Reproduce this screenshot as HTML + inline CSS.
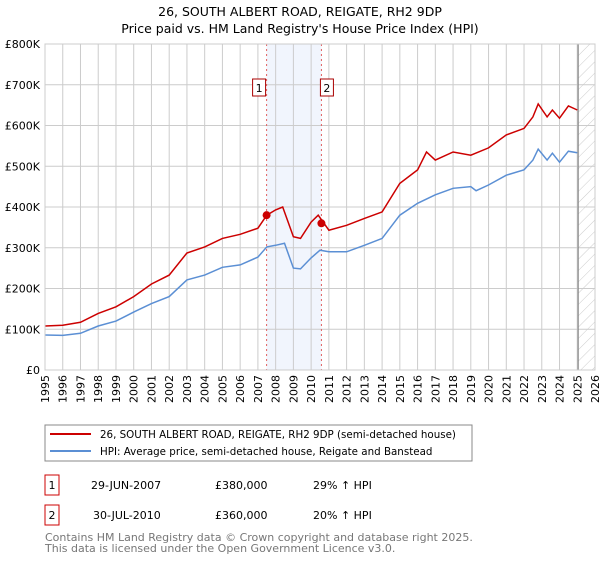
<!DOCTYPE html>
<html><head><meta charset="utf-8"><style>
body{margin:0;background:#fff;font-family:"DejaVu Sans","Liberation Sans",sans-serif;}
svg text{font-family:"DejaVu Sans","Liberation Sans",sans-serif;}
</style></head><body>
<svg id="c" width="600" height="560" xmlns="http://www.w3.org/2000/svg">
<text x="300" y="16" text-anchor="middle" font-size="12.5" fill="#000">26, SOUTH ALBERT ROAD, REIGATE, RH2 9DP</text>
<text x="300" y="33" text-anchor="middle" font-size="12.5" fill="#000">Price paid vs. HM Land Registry's House Price Index (HPI)</text>
<defs><pattern id="hatch" width="8" height="8" patternUnits="userSpaceOnUse" patternTransform="rotate(45)"><line x1="0" y1="0" x2="0" y2="8" stroke="#ccc" stroke-width="1"/></pattern></defs>
<g id="grid"></g>
<g id="marks"></g>
<g id="axes"></g>
<rect x="45" y="425" width="427" height="36" fill="#fff" stroke="#888"/>
<line x1="50" y1="434" x2="91" y2="434" stroke="#cc0000" stroke-width="2"/>
<text x="100" y="438" font-size="10.3">26, SOUTH ALBERT ROAD, REIGATE, RH2 9DP (semi-detached house)</text>
<line x1="50" y1="451" x2="91" y2="451" stroke="#5b8fd4" stroke-width="2"/>
<text x="100" y="455" font-size="10.3">HPI: Average price, semi-detached house, Reigate and Banstead</text>
<rect x="45" y="475" width="14" height="20" fill="#fff" stroke="#cc0000"/>
<text x="52" y="489" font-size="11" text-anchor="middle">1</text>
<text x="91" y="489" font-size="11">29-JUN-2007</text>
<text x="215" y="489" font-size="11">£380,000</text>
<text x="313" y="489" font-size="11">29% ↑ HPI</text>
<rect x="45" y="505" width="14" height="20" fill="#fff" stroke="#cc0000"/>
<text x="52" y="519" font-size="11" text-anchor="middle">2</text>
<text x="93" y="519" font-size="11">30-JUL-2010</text>
<text x="215" y="519" font-size="11">£360,000</text>
<text x="313" y="519" font-size="11">20% ↑ HPI</text>
<text x="45" y="541" font-size="11" fill="#777">Contains HM Land Registry data © Crown copyright and database right 2025.</text>
<text x="45" y="552" font-size="11" fill="#777">This data is licensed under the Open Government Licence v3.0.</text>
</svg>
<script>
const yTicks=[0,100000,200000,300000,400000,500000,600000,700000,800000];
const yTickLabels=["£0","£100K","£200K","£300K","£400K","£500K","£600K","£700K","£800K"];
const xYears=[1995,1996,1997,1998,1999,2000,2001,2002,2003,2004,2005,2006,2007,2008,2009,2010,2011,2012,2013,2014,2015,2016,2017,2018,2019,2020,2021,2022,2023,2024,2025,2026];
const hpiT=[1995,1996,1997,1998,1999,2000,2001,2002,2003,2004,2005,2006,2007,2007.5,2008,2008.5,2009,2009.4,2010,2010.5,2011,2012,2013,2014,2015,2016,2017,2018,2019,2019.3,2020,2021,2022,2022.5,2022.8,2023.3,2023.6,2024,2024.5,2025];
const hpiV=[86000,85000,90000,108000,120000,142000,163000,180000,221000,233000,252000,258000,277000,302000,306000,311000,250000,248000,275000,294000,290000,290000,306000,323000,380000,409000,430000,446000,450000,440000,454000,478000,491000,515000,542000,515000,532000,510000,537000,533000];
const priceT=[1995,1996,1997,1998,1999,2000,2001,2002,2003,2004,2005,2006,2007,2007.5,2008,2008.4,2009,2009.4,2010,2010.4,2011,2012,2013,2014,2015,2016,2016.5,2017,2018,2019,2020,2021,2022,2022.5,2022.8,2023.3,2023.6,2024,2024.5,2025];
const priceV=[108000,110000,117000,139000,155000,180000,211000,233000,287000,302000,323000,333000,348000,380000,393000,400000,327000,323000,363000,380000,343000,355000,372000,388000,458000,491000,535000,515000,535000,527000,545000,577000,593000,621000,653000,621000,638000,618000,648000,638000];
const saleT=[2007.49,2010.58];
const saleV=[380000,360000];
const saleLabels=["1","2"];

const NS="http://www.w3.org/2000/svg";
const X0=45,X1=595,Y0=370,Y1=44;
const xs=t=>X0+(t-1995)/(2026-1995)*(X1-X0);
const ys=v=>Y0-v/800000*(Y0-Y1);
function mk(tag,attrs,parent){const e=document.createElementNS(NS,tag);for(const k in attrs)e.setAttribute(k,attrs[k]);parent.appendChild(e);return e;}
const grid=document.getElementById('grid'),marks=document.getElementById('marks'),axes=document.getElementById('axes');
let r=mk('rect',{x:xs(saleT[0]),y:Y1,width:xs(saleT[1])-xs(saleT[0]),height:Y0-Y1,fill:'#eef3fc',opacity:0.8},grid);


let h=mk('rect',{x:xs(2025.05),y:Y1,width:X1-xs(2025.05),height:Y0-Y1,fill:'url(#hatch)'},grid);


yTicks.forEach((v,i)=>{
  const l=mk('line',{x1:X0,x2:X1,y1:ys(v),y2:ys(v),stroke:'#ccc','stroke-width':1},grid);
  
  
  const t=mk('text',{x:X0-5,y:ys(v)+4,'text-anchor':'end','font-size':11},axes);
  t.textContent=yTickLabels[i];
  
  
});
xYears.forEach(yr=>{
  const l=mk('line',{x1:xs(yr),x2:xs(yr),y1:Y1,y2:Y0,stroke:'#ccc','stroke-width':1},grid);
  
  
  const t=mk('text',{transform:`translate(${xs(yr)+4},${Y0+5}) rotate(-90)`,'text-anchor':'end','font-size':11},axes);
  t.textContent=yr;
  
  
});
let e=mk('line',{x1:xs(2025.05),x2:xs(2025.05),y1:Y1,y2:Y0,stroke:'#888','stroke-width':1.2},grid);


saleT.forEach((t,i)=>{
  const l=mk('line',{x1:xs(t),x2:xs(t),y1:Y1,y2:Y0,stroke:'#e06060','stroke-width':1,'stroke-dasharray':'2,3'},marks);
  
  
});
const path=(T,V)=>T.map((t,i)=>(i?'L':'M')+xs(t).toFixed(1)+','+ys(V[i]).toFixed(1)).join(' ');
let hp=mk('path',{d:path(hpiT,hpiV),fill:'none',stroke:'#5b8fd4','stroke-width':1.5},marks);


let pp=mk('path',{d:path(priceT,priceV),fill:'none',stroke:'#cc0000','stroke-width':1.5},marks);


saleT.forEach((t,i)=>{
  const c=mk('circle',{cx:xs(t),cy:ys(saleV[i]),r:4,fill:'#cc0000'},marks);
  
  
  const bx=xs(t)-(i==0?13:0)-1;
  const b=mk('rect',{x:bx,y:79,width:13,height:17,fill:'#fff',stroke:'#aa0000'},marks);
  
  
  const tx=mk('text',{x:bx+6.5,y:92,'text-anchor':'middle','font-size':11},marks);
  tx.textContent=saleLabels[i];
  
  
});
let fr=mk('rect',{x:X0,y:Y1,width:X1-X0,height:Y0-Y1,fill:'none',stroke:'#ccc'},axes);


</script>
</body></html>
